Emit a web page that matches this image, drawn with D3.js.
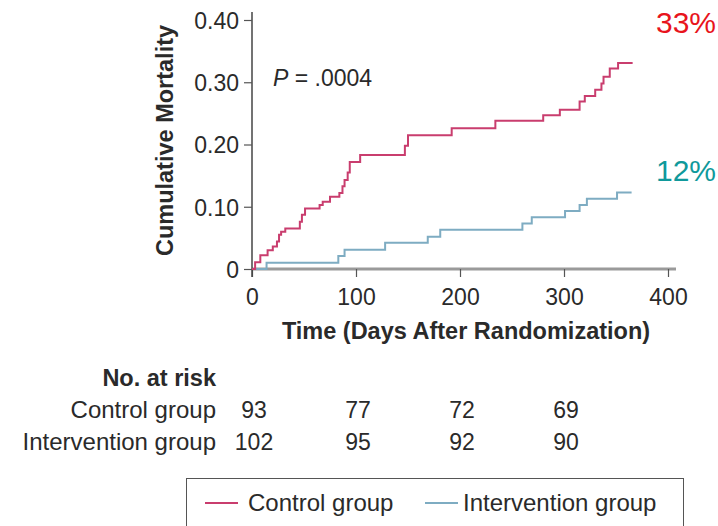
<!DOCTYPE html>
<html>
<head>
<meta charset="utf-8">
<script src="https://cdn.jsdelivr.net/npm/d3@7"></script>
<style>
  html, body { margin: 0; padding: 0; background: #fff; }
  svg text { font-family: "Liberation Sans", Arial, Helvetica, sans-serif; fill: #2a2a2a; }
</style>
</head>
<body>
<svg id="chart" width="718" height="526"></svg>
<script>
// ---- data ----
const controlDays = [0,3,8,15,20,24,26,28,32,46,48,51,65,68,75,84,87,89,92,94,104,147,150,192,234,280,296,315,320,330,336,338,344,352,366];
const controlRisk = [0,0.011,0.022,0.030,0.036,0.044,0.055,0.060,0.065,0.076,0.087,0.097,0.103,0.108,0.116,0.122,0.133,0.143,0.155,0.172,0.183,0.198,0.215,0.226,0.238,0.247,0.256,0.269,0.278,0.288,0.298,0.309,0.322,0.331,0.331];
const interventionDays = [0,14,83,89,128,169,181,260,269,301,315,322,351,365];
const interventionRisk = [0,0.010,0.021,0.031,0.042,0.052,0.063,0.073,0.083,0.093,0.103,0.113,0.123,0.123];
const xTicks = [0,100,200,300,400];
const yTicks = [0,0.1,0.2,0.3,0.4];
const atRiskTimes = [0,100,200,300];
const atRiskControl = [93,77,72,69];
const atRiskIntervention = [102,95,92,90];
const groupNames = ["Control group","Intervention group"];
const finalLabels = ["33%","12%"];
const pValueText = ".0004";

// ---- layout ----
const svg = d3.select("#chart");
const x = d3.scaleLinear().domain([0,400]).range([252,668]);
const y = d3.scaleLinear().domain([0,0.4]).range([269,20]);
const red = "#c93d6e", blue = "#7eacc2";

// x axis
const gx = svg.append("g").attr("transform", `translate(0,${y(0)})`)
  .call(d3.axisBottom(x).tickValues(xTicks).tickSize(8).tickSizeOuter(0).tickFormat(d3.format("d")));
gx.select(".domain").attr("d", `M${x(0)},0H${x(400)+8}`).attr("stroke","#9a9a9a").attr("stroke-width",3);
gx.selectAll(".tick line").attr("stroke","#555").attr("stroke-width",1.2);
gx.selectAll(".tick text").attr("font-size",23).attr("y",20).attr("dy","0.71em");

// y axis
const gy = svg.append("g").attr("transform", `translate(${x(0)},0)`)
  .call(d3.axisLeft(y).tickValues(yTicks).tickSize(8).tickSizeOuter(0).tickFormat(d => d === 0 ? "0" : d3.format(".2f")(d)));
gy.select(".domain").attr("d", `M0,${y(0.4)-8}V${y(0)+8}`).attr("stroke","#444").attr("stroke-width",1.5);
gy.selectAll(".tick line").attr("stroke","#555").attr("stroke-width",1.2);
gy.selectAll(".tick text").attr("font-size",23).attr("x",-13).attr("dy","0.36em");
gy.selectAll("text").attr("font-family",null);
gx.selectAll("text").attr("font-family",null);
svg.selectAll(".tick text").attr("fill","#2a2a2a");

// curves
const line = d3.line().x(d => x(d[0])).y(d => y(d[1])).curve(d3.curveStepAfter);
const controlData = d3.zip(controlDays, controlRisk);
const interventionData = d3.zip(interventionDays, interventionRisk);
svg.append("path").datum(interventionData).attr("d", line)
  .attr("fill","none").attr("stroke",blue).attr("stroke-width",2);
svg.append("path").datum(controlData).attr("d", line)
  .attr("fill","none").attr("stroke",red).attr("stroke-width",2);

// axis titles
svg.append("text").attr("transform", `translate(173,${(y(0)+y(0.4))/2 - 4}) rotate(-90)`)
  .attr("text-anchor","middle").attr("font-size",23.5).attr("font-weight","bold")
  .text("Cumulative Mortality");
svg.append("text").attr("x", 466).attr("y", 339)
  .attr("text-anchor","middle").attr("font-size",23.5).attr("font-weight","bold")
  .text("Time (Days After Randomization)");

// P value
const pt = svg.append("text").attr("x", 273).attr("y", 86).attr("font-size",23);
pt.append("tspan").attr("font-style","italic").text("P");
pt.append("tspan").text(" = " + pValueText);

// final percentages
svg.append("text").attr("x", 716).attr("y", 33).attr("text-anchor","end")
  .attr("font-size",30).style("fill","#e8141c").text(finalLabels[0]);
svg.append("text").attr("x", 716).attr("y", 181).attr("text-anchor","end")
  .attr("font-size",30).style("fill","#10999b").text(finalLabels[1]);

// number at risk table
svg.append("text").attr("x", 216).attr("y", 386).attr("text-anchor","end")
  .attr("font-size",23.5).attr("font-weight","bold").text("No. at risk");
const rows = [atRiskControl, atRiskIntervention];
const rowY = [418, 450];
rows.forEach((vals, i) => {
  svg.append("text").attr("x", 216).attr("y", rowY[i]).attr("text-anchor","end")
    .attr("font-size",24).text(groupNames[i]);
  svg.selectAll(null).data(d3.zip(atRiskTimes, vals)).enter().append("text")
    .attr("x", d => x(d[0]) + 2).attr("y", rowY[i]).attr("text-anchor","middle")
    .attr("font-size",23).text(d => d[1]);
});

// legend
svg.append("rect").attr("x", 186.5).attr("y", 478.5).attr("width", 497).attr("height", 60)
  .attr("fill","#fff").attr("stroke","#555").attr("stroke-width",1);
const legendItems = [{c: red, x0: 205, tx: 248}, {c: blue, x0: 425, tx: 463}];
legendItems.forEach((it, i) => {
  svg.append("line").attr("x1", it.x0).attr("x2", it.x0 + 33).attr("y1", 503).attr("y2", 503)
    .attr("stroke", it.c).attr("stroke-width", 1.8);
  svg.append("text").attr("x", it.tx).attr("y", 511).attr("font-size",24).text(groupNames[i]);
});
</script>
</body>
</html>
